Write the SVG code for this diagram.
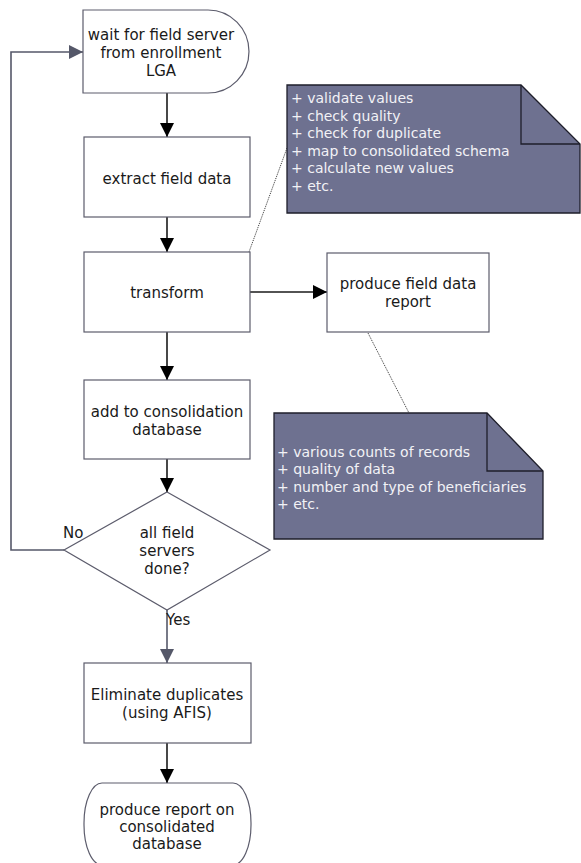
<svg xmlns="http://www.w3.org/2000/svg" width="581" height="863" viewBox="0 0 581 863">
  <style>
    .node { fill: #ffffff; stroke: #5c5c6c; stroke-width: 1.2; }
    .note { fill: #6e7190; stroke: #1e1e2a; stroke-width: 1.3; }
    .fold { fill: none; stroke: #1e1e2a; stroke-width: 1.3; }
    .label { font-family: "DejaVu Sans", Verdana, sans-serif; font-size: 15px; fill: #1a1a1a; text-anchor: middle; }
    .edge-label { font-family: "DejaVu Sans", Verdana, sans-serif; font-size: 15px; fill: #1a1a1a; }
    .note-text { font-family: "DejaVu Sans", Verdana, sans-serif; font-size: 14px; fill: #f2f2f6; }
    .flow { fill: none; stroke: #1a1a1a; stroke-width: 1.6; }
    .flow-grey { fill: none; stroke: #555869; stroke-width: 1.6; }
    .anchor { fill: none; stroke: #333333; stroke-width: 1; stroke-dasharray: 1 1; }
  </style>
  <defs>
    <marker id="arrow" viewBox="0 0 14 14" refX="14" refY="7" markerWidth="14" markerHeight="14" markerUnits="userSpaceOnUse" orient="auto">
      <path d="M0,0 L14,7 L0,14 Z" fill="#000000"/>
    </marker>
    <marker id="arrow-grey" viewBox="0 0 14 14" refX="14" refY="7" markerWidth="14" markerHeight="14" markerUnits="userSpaceOnUse" orient="auto">
      <path d="M0,0 L14,7 L0,14 Z" fill="#555869"/>
    </marker>
  </defs>

  <!-- connectors -->
  <g id="connectors">
    <line class="flow" x1="167" y1="93" x2="167" y2="137" marker-end="url(#arrow)"/>
    <line class="flow" x1="167" y1="217" x2="167" y2="252" marker-end="url(#arrow)"/>
    <line class="flow" x1="167" y1="332" x2="167" y2="380" marker-end="url(#arrow)"/>
    <line class="flow" x1="250" y1="292" x2="327" y2="292" marker-end="url(#arrow)"/>
    <line class="flow" x1="167" y1="459" x2="167" y2="492" marker-end="url(#arrow)"/>
    <line class="flow-grey" x1="167" y1="610" x2="167" y2="663" marker-end="url(#arrow-grey)"/>
    <line class="flow" x1="167" y1="743" x2="167" y2="783" marker-end="url(#arrow)"/>
    <polyline class="flow-grey" points="64,550 11,550 11,52 83,52" marker-end="url(#arrow-grey)"/>
    <line class="anchor" x1="287" y1="148" x2="249" y2="252"/>
    <line class="anchor" x1="368" y1="333" x2="409" y2="413"/>
    <text class="edge-label" x="63" y="538">No</text>
    <text class="edge-label" x="166" y="625">Yes</text>
  </g>

  <g id="wait-for-server">
    <path class="node" d="M83,10 H208 A41,41.5 0 0 1 208,93 H83 Z"/>
    <text class="label" x="161" y="40">wait for field server</text>
    <text class="label" x="161" y="58">from enrollment</text>
    <text class="label" x="161" y="76">LGA</text>
  </g>

  <g id="extract">
    <rect class="node" x="84" y="137" width="166" height="80"/>
    <text class="label" x="167" y="184">extract field data</text>
  </g>

  <g id="transform">
    <rect class="node" x="84" y="252" width="166" height="80"/>
    <text class="label" x="167" y="298">transform</text>
  </g>

  <g id="field-report">
    <rect class="node" x="327" y="253" width="162" height="79"/>
    <text class="label" x="408" y="289">produce field data</text>
    <text class="label" x="408" y="307">report</text>
  </g>

  <g id="consolidate">
    <rect class="node" x="84" y="380" width="166" height="79"/>
    <text class="label" x="167" y="417">add to consolidation</text>
    <text class="label" x="167" y="435">database</text>
  </g>

  <g id="all-done">
    <polygon class="node" points="167,492 270,550 167,610 64,550"/>
    <text class="label" x="167" y="538">all field</text>
    <text class="label" x="167" y="556">servers</text>
    <text class="label" x="167" y="574">done?</text>
  </g>

  <g id="dedupe">
    <rect class="node" x="84" y="663" width="167" height="80"/>
    <text class="label" x="167" y="700">Eliminate duplicates</text>
    <text class="label" x="167" y="718">(using AFIS)</text>
  </g>

  <g id="final-report">
    <rect class="node" x="84" y="783" width="167" height="82" rx="18" ry="40"/>
    <text class="label" x="167" y="815">produce report on</text>
    <text class="label" x="167" y="832">consolidated</text>
    <text class="label" x="167" y="849">database</text>
  </g>

  <g id="transform-note">
    <path class="note" d="M287,85 H521 L580,144 V213 H287 Z"/>
    <polyline class="fold" points="521,85 521,144 580,144"/>
    <text class="note-text" x="291" y="103">+ validate values</text>
    <text class="note-text" x="291" y="121">+ check quality</text>
    <text class="note-text" x="291" y="138">+ check for duplicate</text>
    <text class="note-text" x="291" y="156">+ map to consolidated schema</text>
    <text class="note-text" x="291" y="173">+ calculate new values</text>
    <text class="note-text" x="291" y="191">+ etc.</text>
  </g>

  <g id="report-note">
    <path class="note" d="M274,413 H487 L543,471 V539 H274 Z"/>
    <polyline class="fold" points="487,413 487,471 543,471"/>
    <text class="note-text" x="277" y="457">+ various counts of records</text>
    <text class="note-text" x="277" y="474">+ quality of data</text>
    <text class="note-text" x="277" y="492">+ number and type of beneficiaries</text>
    <text class="note-text" x="277" y="509">+ etc.</text>
  </g>
</svg>
